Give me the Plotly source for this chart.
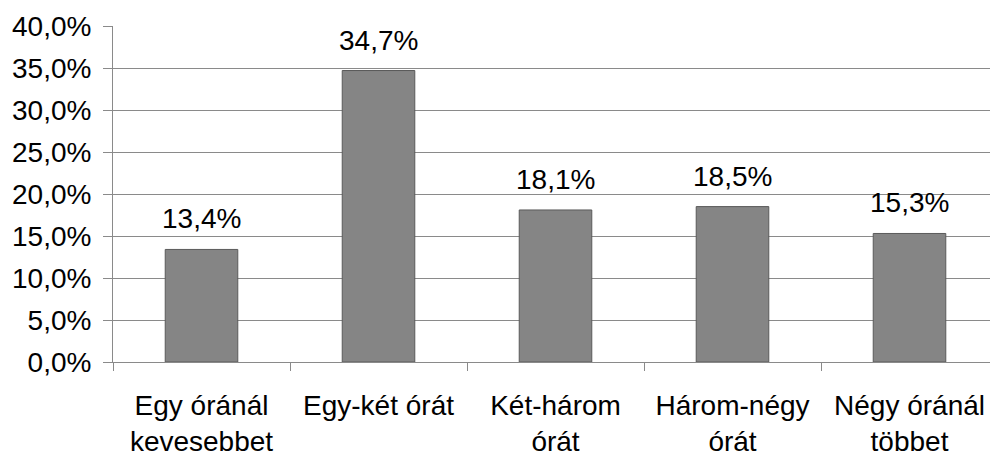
import plotly.graph_objects as go

categories = ["Egy óránál<br>kevesebbet", "Egy-két órát", "Két-három<br>órát", "Három-négy<br>órát", "Négy óránál<br>többet"]
values = [13.4, 34.7, 18.1, 18.5, 15.3]
y_ticks = [0, 5, 10, 15, 20, 25, 30, 35, 40]
y_tick_labels = [f"{t:.1f}%".replace(".", ",") for t in y_ticks]

FONT = "Liberation Sans, Arial, sans-serif"
FS = 28
fig = go.Figure()
fig.add_trace(go.Bar(
    x=categories, y=values,
    marker=dict(color="#858585", line=dict(color="#5a5a5a", width=1)),
    width=0.41,
))
for c, v in zip(categories, values):
    fig.add_annotation(x=c, y=v, text=f"{v:.1f}%".replace(".", ","),
                       showarrow=False, yanchor="bottom", yshift=13,
                       font=dict(family=FONT, size=FS, color="#000"))

# page body has an 8px default margin, so the figure is sized to fit
fig.update_layout(
    width=990, height=445,
    margin=dict(l=105, r=0, t=18, b=91, autoexpand=False),
    plot_bgcolor="white", paper_bgcolor="white",
    showlegend=False,
    font=dict(family=FONT, size=FS, color="#000"),
)
fig.update_yaxes(
    range=[0, 40], tickvals=y_ticks, ticktext=y_tick_labels,
    showgrid=True, gridcolor="#8a8a8a", gridwidth=1,
    showline=True, linecolor="#8a8a8a", linewidth=1,
    ticks="outside", ticklen=9, tickcolor="#8a8a8a",
    zeroline=False, tickfont=dict(size=FS), automargin=False,
    ticklabelstandoff=6,
)
fig.update_xaxes(
    showline=True, linecolor="#8a8a8a", linewidth=1,
    ticks="outside", ticklen=8, tickcolor="#8a8a8a", tickson="boundaries",
    showgrid=False, tickfont=dict(size=FS), automargin=False,
    ticklabelstandoff=18,
)
fig.write_html("out.html")
